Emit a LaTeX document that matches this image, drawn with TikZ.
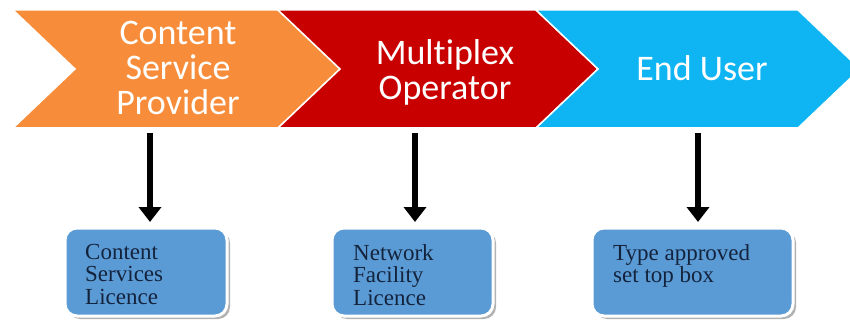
\documentclass[tikz,border=0pt]{standalone}
\usepackage{fontspec}
\setmainfont{Liberation Serif}
\newfontfamily\chevfont[Ligatures=NoCommon]{Carlito}
\usepackage{xcolor}
\usepackage{tikz}
\usetikzlibrary{arrows.meta,positioning,shadows}

\definecolor{cspOrange}{HTML}{F78D3A}
\definecolor{muxRed}{HTML}{C80000}
\definecolor{userBlue}{HTML}{0FB5F2}
\definecolor{licBlue}{HTML}{5B9BD5}
\definecolor{licText}{HTML}{14233C}

\begin{document}
\begin{tikzpicture}[x=1pt,y=-1pt]
	\begin{scope}

\tikzset{chev/.style={draw=white,line width=1.5pt,line join=miter},
ctext/.style={text=white,font=\chevfont\fontsize{36}{35}\selectfont,align=center,inner sep=0},
lic/.style={draw=white,line width=3pt,fill=licBlue,rounded corners=12pt,anchor=north west,
  minimum height=88pt,inner sep=0,outer sep=0,
  drop shadow={shadow xshift=3pt,shadow yshift=-3pt,fill=black,opacity=0.3}},
lictext/.style={text=licText,font=\fontsize{23}{22.5}\selectfont,align=left,inner sep=0,anchor=north west},
down/.style={-{Triangle[width=22pt,length=15pt]},line width=6pt,shorten >=6pt}}

\useasboundingbox (0,0) rectangle (850,323);

% the chevrons
\foreach \xl/\xr/\col in {13/278/cspOrange,278/536/muxRed,536/798/userBlue}
{
\fill[chev,fill=\col] (\xl,10) -- (\xr,10) -- (\xr+62,69) -- (\xr,128) -- (\xl,128) -- (\xl+62,69) -- cycle;
}

\node[ctext] (csp) at (178,68) {Content\\Service\\Provider};
\node[ctext] (mux) at (445,72) {Multiplex\\Operator};
\node[ctext] (user) at (702,68) {End User};

% licence boxes
\node[lic,minimum width=162pt] (cslic) at (65,228) {};
\node[lic,minimum width=161pt] (nflic) at (332,228) {};
\node[lic,minimum width=201pt] (stb) at (592,228) {};

\node[lictext] (cstext) at ([xshift=20pt,yshift=-16pt]cslic.north west) {Content\\Services\\Licence};
\node[lictext] (nftext) at ([xshift=21pt,yshift=-16pt]nflic.north west) {Network\\Facility\\Licence};
\node[lictext] (stbtext) at ([xshift=21pt,yshift=-16pt]stb.north west) {Type approved\\set top box};

% the arrows down
\coordinate (cspfoot) at (150,133);
\coordinate (muxfoot) at (415,133);
\coordinate (userfoot) at (698,133);
\draw[down] (cspfoot) -- (cspfoot |- cslic.north);
\draw[down] (muxfoot) -- (muxfoot |- nflic.north);
\draw[down] (userfoot) -- (userfoot |- stb.north);

	\end{scope}
\end{tikzpicture}
\end{document}
